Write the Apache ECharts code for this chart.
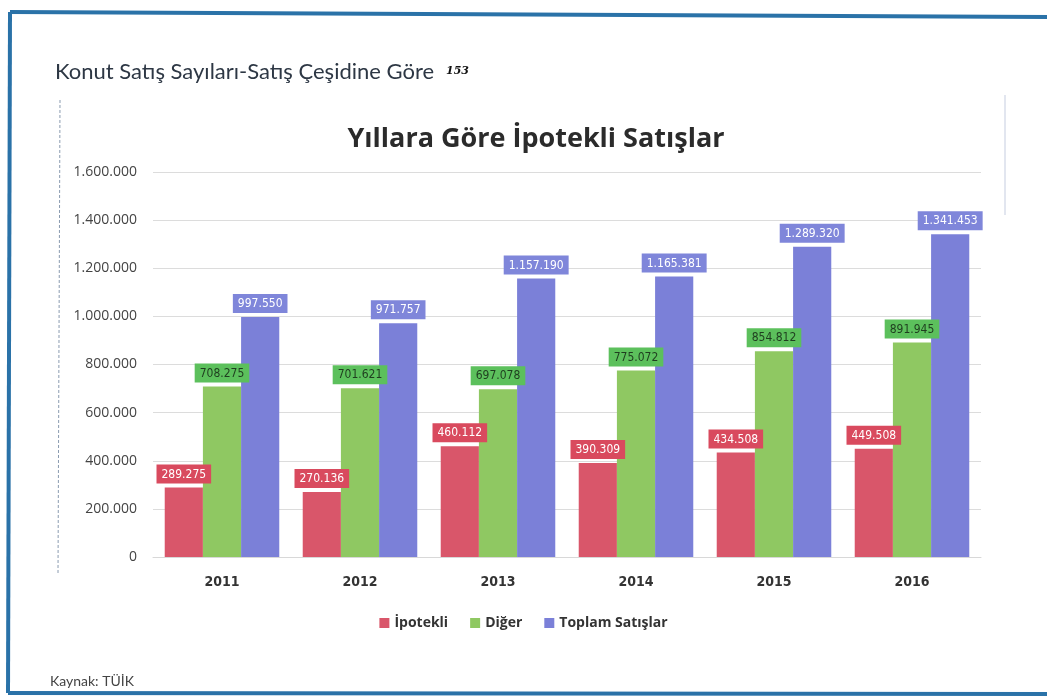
<!DOCTYPE html>
<html>
<head>
<meta charset="utf-8">
<script src="https://cdn.jsdelivr.net/npm/echarts@6/dist/echarts.min.js"></script>
<style>
html,body{margin:0;padding:0;background:#fff;}
#main{width:1047px;height:698px;}
</style>
</head>
<body>
<div id="main"></div>
<script>
var years = ['2011', '2012', '2013', '2014', '2015', '2016'];
var ipotekli = [289275, 270136, 460112, 390309, 434508, 449508];
var diger = [708275, 701621, 697078, 775072, 854812, 891945];
var toplam = [997550, 971757, 1157190, 1165381, 1289320, 1341453];
var seriesNames = ['İpotekli', 'Diğer', 'Toplam Satışlar'];
var yTicks = [0, 200000, 400000, 600000, 800000, 1000000, 1200000, 1400000, 1600000];

function fmt(v) {
  return String(v).replace(/\B(?=(\d{3})+(?!\d))/g, '.');
}

var colors = ['#d9566a', '#8fc862', '#7b80d8'];
var labelBg = ['#d94a5e', '#5cc05c', '#7f86da'];
var labelColor = ['#ffffff', '#1f3d1f', '#ffffff'];

function mkSeries(i, data) {
  return {
    name: seriesNames[i],
    type: 'bar',
    data: data,
    barGap: '0%',
    barCategoryGap: '17%',
    itemStyle: { color: colors[i] },
    label: {
      show: true,
      position: 'top',
      distance: 4,
      formatter: function (p) { return fmt(p.value); },
      color: labelColor[i],
      backgroundColor: labelBg[i],
      padding: [4, 5, 3, 5],
      fontSize: 12,
      fontFamily: 'DejaVu Sans Condensed, DejaVu Sans, sans-serif'
    }
  };
}

var chart = echarts.init(document.getElementById('main'));
chart.setOption({
  backgroundColor: '#ffffff',
  animation: false,
  title: {
    text: 'Yıllara Göre İpotekli Satışlar',
    left: 531,
    textAlign: 'center',
    top: 121,
    textStyle: { fontSize: 27, fontWeight: 'bold', color: '#2b2b2b', fontFamily: 'Open Sans, sans-serif' }
  },
  legend: {
    data: seriesNames,
    left: 'center',
    top: 611,
    itemWidth: 10,
    itemHeight: 10,
    itemGap: 22,
    icon: 'rect',
    textStyle: { fontSize: 14, fontWeight: 'bold', color: '#333', fontFamily: 'Open Sans, sans-serif' }
  },
  grid: { left: 153, right: 66, top: 172, bottom: 141, containLabel: false },
  xAxis: {
    type: 'category',
    data: years,
    axisLine: { show: true, lineStyle: { color: '#d8d8d8' } },
    axisTick: { show: false },
    axisLabel: { margin: 18, fontSize: 14, fontWeight: 'bold', color: '#333', fontFamily: 'DejaVu Sans Condensed, sans-serif' }
  },
  yAxis: {
    type: 'value',
    min: yTicks[0],
    max: yTicks[yTicks.length - 1],
    interval: yTicks[1] - yTicks[0],
    axisLine: { show: false },
    axisTick: { show: false },
    splitLine: { lineStyle: { color: '#dcdcdc' } },
    axisLabel: {
      margin: 16,
      fontSize: 14,
      color: '#444',
      fontFamily: 'Open Sans, sans-serif',
      formatter: function (v) { return fmt(v); }
    }
  },
  series: [mkSeries(0, ipotekli), mkSeries(1, diger), mkSeries(2, toplam)],
  graphic: [
    { type: 'polyline', shape: { points: [[10, 12], [1047, 17]] }, style: { stroke: '#2a72a8', lineWidth: 4, fill: null } },
    { type: 'polyline', shape: { points: [[10, 12], [8, 693]] }, style: { stroke: '#2a72a8', lineWidth: 4, fill: null } },
    { type: 'polyline', shape: { points: [[8, 693], [1047, 694]] }, style: { stroke: '#2a72a8', lineWidth: 4, fill: null } },
    { type: 'line', shape: { x1: 60, y1: 100, x2: 58, y2: 575 }, style: { stroke: '#8a9bb0', lineWidth: 1, lineDash: [3, 2] } },
    { type: 'line', shape: { x1: 1005, y1: 95, x2: 1005, y2: 215 }, style: { stroke: '#c5cde0', lineWidth: 1 } },
    {
      type: 'text', left: 55, top: 61,
      style: { text: 'Konut Satış Sayıları-Satış Çeşidine Göre', fontSize: 22, fill: '#2d3744', fontFamily: 'Lato, sans-serif' }
    },
    {
      type: 'text', left: 446, top: 66,
      style: { text: '153', fontSize: 11, fontWeight: 'bold', fontStyle: 'italic', fill: '#111', fontFamily: 'DejaVu Serif, serif' }
    },
    {
      type: 'text', left: 50, top: 674,
      style: { text: 'Kaynak: TÜİK', fontSize: 14, fill: '#444', fontFamily: 'Lato, sans-serif' }
    }
  ]
});
</script>
</body>
</html>
